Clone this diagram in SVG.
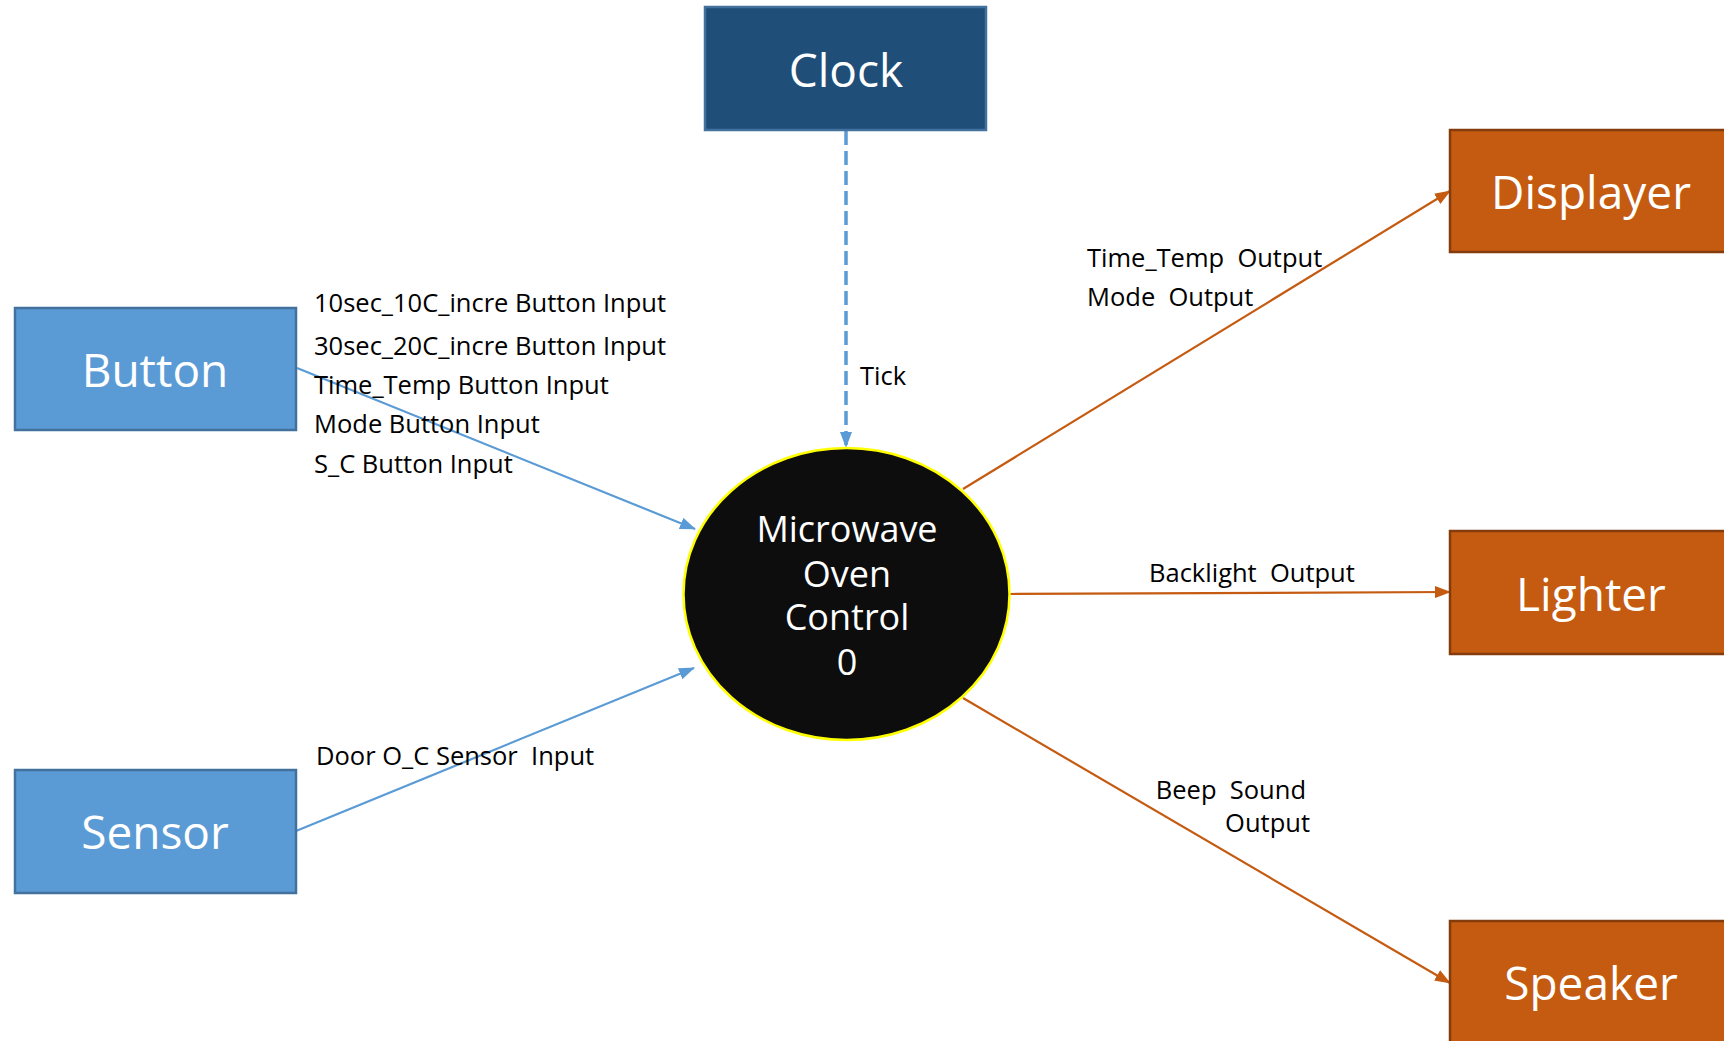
<svg xmlns="http://www.w3.org/2000/svg" width="1724" height="1041" viewBox="0 0 1724 1041">
<style>
.blue{fill:#5B9BD5;stroke:#41719C;stroke-width:2.5}
.dark{fill:#1F4E79;stroke:#41719C;stroke-width:2.5}
.orange{fill:#C55A11;stroke:#843C0C;stroke-width:2.5}
.big{font-family:"Open Sans","Noto Sans",sans-serif;font-size:46px;fill:#fff;text-anchor:middle}
.mid{font-family:"Open Sans","Noto Sans",sans-serif;font-size:36px;fill:#fff;text-anchor:middle}
.lbl{font-family:"Open Sans","Noto Sans",sans-serif;font-size:25.5px;fill:#000}
.bl{fill:none;stroke:#5B9BD5;stroke-width:2.2}
.dash{fill:none;stroke:#5B9BD5;stroke-width:3.5;stroke-dasharray:14,6}
.or{fill:none;stroke:#C55A11;stroke-width:2.2}
</style>
<defs>
<marker id="ab" viewBox="0 0 16 12" refX="15" refY="6" markerWidth="16" markerHeight="12" markerUnits="userSpaceOnUse" orient="auto"><path d="M0,0 L16,6 L0,12 Z" fill="#5B9BD5"/></marker>
<marker id="ao" viewBox="0 0 16 12" refX="15" refY="6" markerWidth="16" markerHeight="12" markerUnits="userSpaceOnUse" orient="auto"><path d="M0,0 L16,6 L0,12 Z" fill="#C55A11"/></marker>
</defs>
<rect width="1724" height="1041" fill="#fff"/>
<g id="connectors">
<line class="dash" x1="846" y1="131" x2="846" y2="447" marker-end="url(#ab)"/>
<line class="bl" x1="297" y1="368" x2="695" y2="529" marker-end="url(#ab)"/>
<line class="bl" x1="296" y1="831" x2="694" y2="668" marker-end="url(#ab)"/>
<line class="or" x1="963" y1="489" x2="1450" y2="191" marker-end="url(#ao)"/>
<line class="or" x1="1010" y1="594" x2="1450" y2="592" marker-end="url(#ao)"/>
<line class="or" x1="963" y1="698" x2="1450" y2="983" marker-end="url(#ao)"/>
<text class="lbl" x="860" y="385">Tick</text>
<text class="lbl" x="314" y="312">10sec_10C_incre Button Input</text>
<text class="lbl" x="314" y="355">30sec_20C_incre Button Input</text>
<text class="lbl" x="314" y="394">Time_Temp Button Input</text>
<text class="lbl" x="314" y="433">Mode Button Input</text>
<text class="lbl" x="314" y="473">S_C Button Input</text>
<text class="lbl" x="316" y="765" xml:space="preserve">Door O_C Sensor  Input</text>
<text class="lbl" x="1087" y="267" xml:space="preserve">Time_Temp  Output</text>
<text class="lbl" x="1087" y="306" xml:space="preserve">Mode  Output</text>
<text class="lbl" x="1149" y="582" xml:space="preserve">Backlight  Output</text>
<text class="lbl" x="1306" y="799" text-anchor="end" xml:space="preserve">Beep  Sound</text>
<text class="lbl" x="1310" y="832" text-anchor="end">Output</text>
</g>
<g id="clock">
<rect class="dark" x="705" y="7" width="281" height="123"/>
<text class="big" x="846" y="87">Clock</text>
</g>
<g id="button">
<rect class="blue" x="15" y="308" width="281" height="122"/>
<text class="big" x="155" y="387">Button</text>
</g>
<g id="sensor">
<rect class="blue" x="15" y="770" width="281" height="123"/>
<text class="big" x="155" y="849">Sensor</text>
</g>
<g id="control">
<ellipse cx="846.5" cy="594" rx="163" ry="146" fill="#0D0D0D" stroke="#FFFF00" stroke-width="2.5"/>
<text class="mid" x="847" y="542">Microwave</text>
<text class="mid" x="847" y="587">Oven</text>
<text class="mid" x="847" y="630">Control</text>
<text class="mid" x="847" y="675">0</text>
</g>
<g id="displayer">
<rect class="orange" x="1450" y="130" width="282" height="122"/>
<text class="big" x="1591" y="209">Displayer</text>
</g>
<g id="lighter">
<rect class="orange" x="1450" y="531" width="282" height="123"/>
<text class="big" x="1591" y="611">Lighter</text>
</g>
<g id="speaker">
<rect class="orange" x="1450" y="921" width="282" height="123"/>
<text class="big" x="1591" y="1000">Speaker</text>
</g>
</svg>
